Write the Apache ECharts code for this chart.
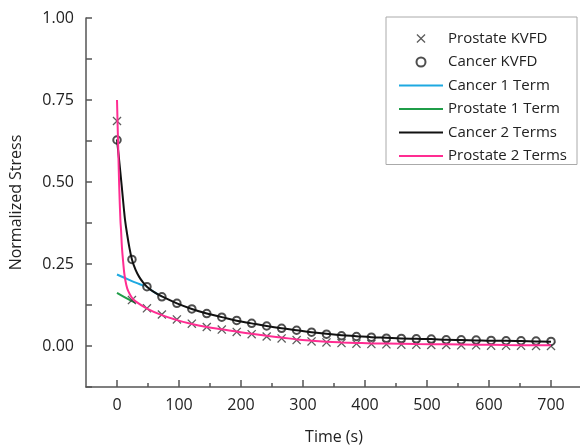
<!DOCTYPE html>
<html>
<head>
<meta charset="utf-8">
<script src="https://cdn.jsdelivr.net/npm/echarts@6/dist/echarts.min.js"></script>
<style>
  html, body { margin: 0; padding: 0; background: #fff; }
  #chart { width: 580px; height: 447px; }
</style>
</head>
<body>
<div id="chart"></div>
<script>
  // sample times of the KVFD points (s)
  var kvfdTime = [0, 24.1, 48.3, 72.4, 96.6, 120.7, 144.8, 169, 193.1, 217.2, 241.4, 265.5, 289.7, 313.8, 337.9,
    362.1, 386.2, 410.3, 434.5, 458.6, 482.8, 506.9, 531, 555.2, 579.3, 603.4, 627.6, 651.7, 675.9, 700];
  var prostateKvfd = [0.686, 0.140, 0.115, 0.096, 0.081, 0.068, 0.058, 0.050, 0.043, 0.036, 0.029, 0.023, 0.018, 0.014, 0.011,
    0.009, 0.007, 0.006, 0.005, 0.004, 0.004, 0.003, 0.003, 0.002, 0.002, 0.001, 0.001, 0.001, 0.000, 0.000];
  var cancerKvfd = [0.628, 0.264, 0.181, 0.150, 0.130, 0.113, 0.099, 0.088, 0.078, 0.069, 0.061, 0.054, 0.048, 0.042, 0.036,
    0.031, 0.029, 0.027, 0.024, 0.023, 0.022, 0.021, 0.019, 0.019, 0.018, 0.017, 0.016, 0.016, 0.015, 0.014];

  // fitted curves
  var cancer1Time = [0, 12, 24.1, 36, 48.3, 60, 72.4];
  var cancer1 = [0.218, 0.208, 0.198, 0.189, 0.179, 0.164, 0.150];
  var prostate1Time = [0, 12, 24.1, 30];
  var prostate1 = [0.162, 0.149, 0.137, 0.132];
  var cancer2Time = [0, 3, 7.5, 11, 13, 16, 20, 24.1, 30, 36, 42, 48.3, 60, 72.4, 96.6, 120.7, 144.8, 169, 193.1, 217.2,
    241.4, 265.5, 289.7, 313.8, 337.9, 362.1, 386.2, 410.3, 434.5, 458.6, 482.8, 506.9, 531, 555.2, 579.3, 603.4,
    627.6, 651.7, 675.9, 700];
  var cancer2 = [0.630, 0.575, 0.490, 0.420, 0.384, 0.345, 0.300, 0.264, 0.232, 0.210, 0.194, 0.181, 0.164, 0.151, 0.130,
    0.113, 0.099, 0.088, 0.077, 0.069, 0.061, 0.054, 0.048, 0.042, 0.037, 0.033, 0.030, 0.027, 0.025, 0.023, 0.022,
    0.021, 0.019, 0.018, 0.017, 0.016, 0.016, 0.015, 0.014, 0.013];
  var prostate2Time = [0, 2, 3.5, 5.5, 6.5, 8, 10, 12, 15, 18, 24.1, 30, 48.3, 72.4, 96.6, 120.7, 144.8, 169, 193.1, 217.2,
    241.4, 265.5, 289.7, 313.8, 337.9, 362.1, 386.2, 410.3, 434.5, 482.8, 531, 579.3, 627.6, 700];
  var prostate2 = [0.750, 0.600, 0.490, 0.384, 0.354, 0.300, 0.255, 0.218, 0.186, 0.168, 0.147, 0.136, 0.114, 0.094, 0.079,
    0.067, 0.058, 0.051, 0.044, 0.037, 0.031, 0.026, 0.020, 0.016, 0.013, 0.011, 0.0095, 0.008, 0.0075, 0.006, 0.005,
    0.004, 0.003, 0.002];

  var xMajorTicks = [0, 100, 200, 300, 400, 500, 600, 700];
  var xMinorTicks = [50, 150, 250, 350, 450, 550, 650];

  function pairs(xs, ys) {
    return xs.map(function (x, i) { return [x, ys[i]]; });
  }

  var font = 'Open Sans';
  var axisColor = '#555';
  var crossPath = 'path://M1,0 L5,4 L9,0 L10,1 L6,5 L10,9 L9,10 L5,6 L1,10 L0,9 L4,5 L0,1 Z';
  var lineIcon = 'path://M0,0 H44 V2 H0 Z';

  function fitLine(name, color, xs, ys, z) {
    return {
      name: name,
      type: 'line',
      smooth: 0.4,
      symbol: 'none',
      lineStyle: { color: color, width: 2 },
      itemStyle: { color: color },
      z: z,
      data: pairs(xs, ys)
    };
  }

  var myChart = echarts.init(document.getElementById('chart'));
  myChart.setOption({
    animation: false,
    backgroundColor: '#fff',
    textStyle: { fontFamily: font },
    grid: { left: 86, top: 18, width: 496, height: 369, outerBoundsMode: 'none' },
    legend: {
      right: 3,
      top: 17,
      orient: 'vertical',
      align: 'left',
      backgroundColor: '#fff',
      borderColor: '#aaa',
      borderWidth: 1,
      padding: [14, 10, 1, 13],
      itemWidth: 44,
      itemHeight: 9,
      itemGap: 8.5,
      textStyle: { fontSize: 15, color: '#222', fontFamily: font },
      data: [
        { name: 'Prostate KVFD' },
        { name: 'Cancer KVFD' },
        { name: 'Cancer 1 Term', icon: lineIcon },
        { name: 'Prostate 1 Term', icon: lineIcon },
        { name: 'Cancer 2 Terms', icon: lineIcon },
        { name: 'Prostate 2 Terms', icon: lineIcon }
      ]
    },
    xAxis: [{
      type: 'value',
      min: -50,
      max: 750,
      interval: 50,
      splitLine: { show: false },
      axisLine: { onZero: false, lineStyle: { color: axisColor, width: 1.5 } },
      axisTick: { inside: true, length: 4, customValues: xMinorTicks, lineStyle: { color: axisColor, width: 1.5 } },
      axisLabel: {
        customValues: xMajorTicks,
        margin: 10,
        fontSize: 16,
        color: '#222',
        fontFamily: font
      },
      name: 'Time (s)',
      nameLocation: 'middle',
      nameGap: 42,
      nameTextStyle: { fontSize: 16, color: '#222', fontFamily: font }
    }, {
      type: 'value',
      min: -50,
      max: 750,
      position: 'bottom',
      splitLine: { show: false },
      axisLine: { show: false, onZero: false },
      axisTick: { inside: true, length: 7, customValues: xMajorTicks, lineStyle: { color: axisColor, width: 1.5 } },
      axisLabel: { show: false }
    }],
    yAxis: {
      type: 'value',
      min: -0.125,
      max: 1,
      interval: 0.125,
      splitLine: { show: false },
      axisLine: { onZero: false, lineStyle: { color: axisColor, width: 1.5 } },
      axisTick: { inside: true, length: 6, lineStyle: { color: axisColor, width: 1.5 } },
      axisLabel: {
        margin: 12,
        fontSize: 16,
        color: '#222',
        fontFamily: font,
        formatter: function (v) {
          if (v < 0 || Math.abs(v / 0.25 - Math.round(v / 0.25)) > 1e-6) return '';
          return v.toFixed(2);
        }
      },
      name: 'Normalized Stress',
      nameLocation: 'middle',
      nameGap: 62,
      nameTextStyle: { fontSize: 16, color: '#222', fontFamily: font }
    },
    series: [
      {
        name: 'Prostate KVFD',
        type: 'scatter',
        symbol: crossPath,
        symbolSize: 9,
        itemStyle: { color: '#333' },
        z: 3,
        data: pairs(kvfdTime, prostateKvfd)
      },
      {
        name: 'Cancer KVFD',
        type: 'scatter',
        symbol: 'emptyCircle',
        symbolSize: 7.5,
        itemStyle: { color: '#222', borderWidth: 1.2 },
        z: 3,
        data: pairs(kvfdTime, cancerKvfd)
      },
      fitLine('Cancer 1 Term', '#1ea9e1', cancer1Time, cancer1, 2),
      fitLine('Prostate 1 Term', '#1f9d48', prostate1Time, prostate1, 2),
      fitLine('Cancer 2 Terms', '#111', cancer2Time, cancer2, 4),
      fitLine('Prostate 2 Terms', '#ff2d92', prostate2Time, prostate2, 5)
    ]
  });
</script>
</body>
</html>
